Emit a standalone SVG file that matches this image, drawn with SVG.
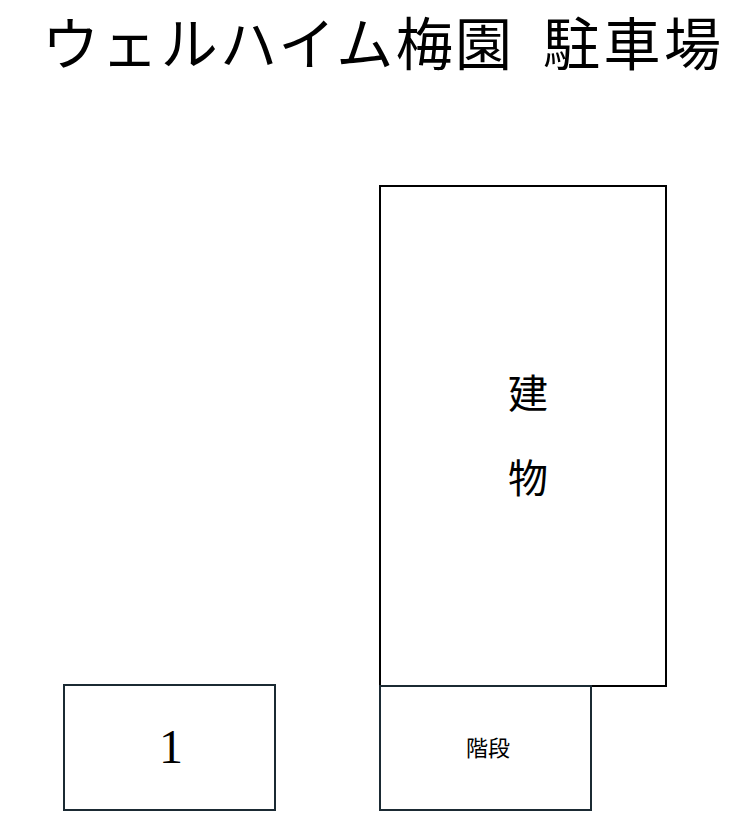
<svg xmlns="http://www.w3.org/2000/svg" width="753" height="830" viewBox="0 0 753 830">
<style>
.serif{font-family:"Liberation Serif","Noto Sans CJK JP",serif;fill:#000}
.sans{font-family:"Noto Sans CJK JP",sans-serif;fill:#000}
.box{fill:#fff;stroke:#1b2a33;stroke-width:2}
.bld{fill:#fff;stroke:#000;stroke-width:2}
</style>
<rect width="753" height="830" fill="#fff"/>
<text id="title" class="serif" y="65" font-size="57"><tspan x="42" textLength="470" lengthAdjust="spacing">ウェルハイム梅園</tspan> <tspan x="543" textLength="178" lengthAdjust="spacing">駐車場</tspan></text>
<g id="building">
<rect class="bld" x="380" y="186" width="286" height="500"/>
<text class="serif" x="528" y="408" font-size="40" text-anchor="middle">建</text>
<text class="serif" x="528" y="493" font-size="40" text-anchor="middle">物</text>
</g>
<g id="stairs">
<rect class="box" x="380" y="686" width="211" height="124"/>
<text class="sans" x="488" y="756" font-size="22" text-anchor="middle">階段</text>
</g>
<g id="space1">
<rect class="box" x="64" y="685" width="211" height="125"/>
<text class="serif" x="171" y="763" font-size="48" text-anchor="middle">1</text>
</g>
<g id="connectors"/>
</svg>
